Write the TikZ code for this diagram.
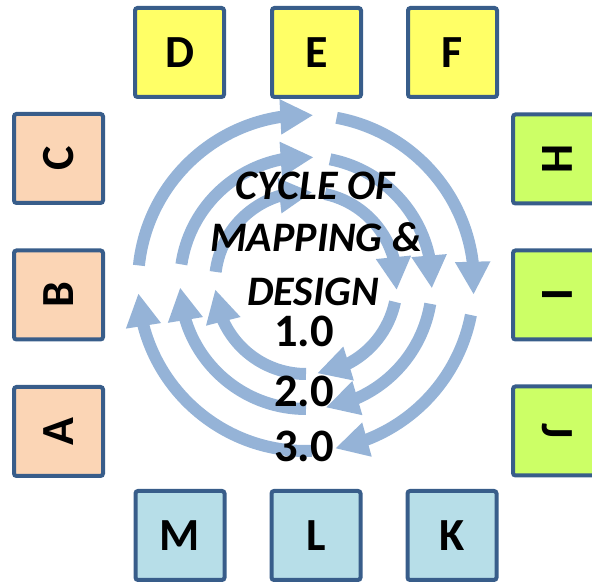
\documentclass[tikz,border=0pt]{standalone}
\usepackage{fontspec}
\setmainfont{Carlito}
\usetikzlibrary{arrows.meta,bending}
\definecolor{arrowblue}{RGB}{149,179,215}
\definecolor{boxline}{RGB}{56,93,138}
\definecolor{yel}{RGB}{255,255,102}
\definecolor{peach}{RGB}{251,213,181}
\definecolor{lime}{RGB}{204,255,102}
\definecolor{aqua}{RGB}{183,222,232}
\begin{document}
\begin{tikzpicture}[x=1pt,y=1pt,
  letterbox/.style={draw=boxline, line width=4pt, rounded corners=2.5pt, minimum size=89pt, inner sep=0pt, font=\fontsize{46}{46}\selectfont\bfseries},
  ring/.style={draw=arrowblue, line width=12pt, -{Triangle[width=33pt,length=33pt]}},
  titletext/.style={font=\fontsize{42}{42}\selectfont\bfseries\itshape, inner sep=0pt, anchor=base},
  numtext/.style={font=\fontsize{46.5}{46.5}\selectfont\bfseries, inner sep=0pt, anchor=base}]
\clip (0,0) rectangle (592,583);
\coordinate (O) at (306,300);
% outer ring
\draw[ring] ([shift={(174:168)}]O) arc[start angle=174, end angle=87.5, radius=168];
\draw[ring] ([shift={(79.5:168)}]O) arc[start angle=79.5, end angle=-4, radius=168];
\draw[ring] ([shift={(-11:168)}]O) arc[start angle=-11, end angle=-80, radius=168];
\draw[ring] ([shift={(-88:168)}]O) arc[start angle=-88, end angle=-176.5, radius=168];
% middle ring
\draw[ring] ([shift={(171.5:126)}]O) arc[start angle=171.5, end angle=86.5, radius=126];
\draw[ring] ([shift={(79:126)}]O) arc[start angle=79, end angle=-2.5, radius=126];
\draw[ring] ([shift={(-9.5:126)}]O) arc[start angle=-9.5, end angle=-81, radius=126];
\draw[ring] ([shift={(-90:126)}]O) arc[start angle=-90, end angle=-178, radius=126];
% inner ring
\draw[ring] ([shift={(173:91)}]O) arc[start angle=173, end angle=86, radius=91];
\draw[ring] ([shift={(78:91)}]O) arc[start angle=78, end angle=-4.5, radius=91];
\draw[ring] ([shift={(-12:91)}]O) arc[start angle=-12, end angle=-83, radius=91];
\draw[ring] ([shift={(-90:91)}]O) arc[start angle=-90, end angle=-176, radius=91];
% centre text
\node[titletext] (t1) at (315,383) {CYCLE OF};
\node[titletext] (t2) at (316,331) {MAPPING \&};
\node[titletext] (t3) at (313,277) {DESIGN};
\node[numtext] (n1) at (304,236) {1.0};
\node[numtext] (n2) at (304,176) {2.0};
\node[numtext] (n3) at (304,121) {3.0};
% boxes
\node[letterbox, fill=yel] (D) at (179.5,530.5) {D};
\node[letterbox, fill=yel] (E) at (316.5,530.5) {E};
\node[letterbox, fill=yel] (F) at (452.5,530.5) {F};
\node[letterbox, fill=peach, rotate=90] (C) at (58.5,424.5) {C};
\node[letterbox, fill=peach, rotate=90] (B) at (58.5,288) {B};
\node[letterbox, fill=peach, rotate=90] (A) at (58.5,151.5) {A};
\node[letterbox, fill=lime, rotate=-90] (H) at (557.5,424) {H};
\node[letterbox, fill=lime, rotate=-90] (I) at (557.5,288) {I};
\node[letterbox, fill=lime, rotate=-90] (J) at (557.5,152) {J};
\node[letterbox, fill=aqua] (M) at (180,47.5) {M};
\node[letterbox, fill=aqua] (L) at (316,47.5) {L};
\node[letterbox, fill=aqua] (K) at (452,47.5) {K};
\end{tikzpicture}
\end{document}
